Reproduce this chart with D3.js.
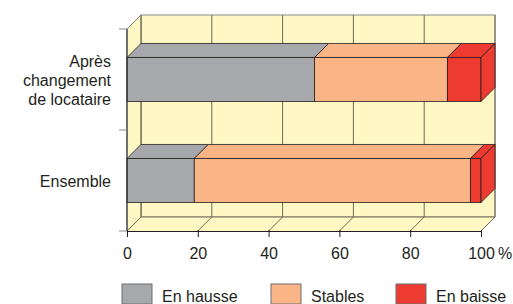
<!DOCTYPE html>
<html>
<head>
<meta charset="utf-8">
<script src="https://cdn.jsdelivr.net/npm/d3@7"></script>
<style>
  body { margin: 0; background: #fff; }
  text { font-family: "Liberation Sans", Arial, sans-serif; fill: #231f20; }
</style>
</head>
<body>
<div id="chart"></div>
<script>
var categories = ["Après changement de locataire", "Ensemble"];
var categoryLines = [["Après", "changement", "de locataire"], ["Ensemble"]];
var seriesNames = ["En hausse", "Stables", "En baisse"];
var hausse = [53, 19];
var stables = [37.5, 78];
var baisse = [9.5, 3];
var xTicks = [0, 20, 40, 60, 80, 100];
var colors = ["#a7a8ab", "#f9b586", "#ee3b31"];

var svg = d3.select("#chart").append("svg").attr("width", 513).attr("height", 304);

var depth = 14;
var x = d3.scaleLinear().domain([0, 100]).range([127, 481]);
var y = d3.scaleBand().domain(categories).range([29, 231]).paddingInner(0.564).paddingOuter(0.282);

var plotL = x(0), plotR = x(100), plotT = y.range()[0], plotB = y.range()[1];
var wall = "#fff8c4", gridCol = "#6e6a52", edge = "#231f20";

// back wall
svg.append("rect")
    .attr("x", plotL + depth).attr("y", plotT - depth)
    .attr("width", plotR - plotL).attr("height", plotB - plotT)
    .attr("fill", wall).attr("stroke", "#8a8a8a").attr("stroke-width", 1);

// side wall
svg.append("polygon")
    .attr("points", [[plotL, plotT], [plotL + depth, plotT - depth], [plotL + depth, plotB - depth], [plotL, plotB]].join(" "))
    .attr("fill", wall).attr("stroke", "#8a8a8a").attr("stroke-width", 1);

// floor
svg.append("polygon")
    .attr("points", [[plotL, plotB], [plotL + depth, plotB - depth], [plotR + depth, plotB - depth], [plotR, plotB]].join(" "))
    .attr("fill", wall).attr("stroke", "none");

// grid on back wall and floor
svg.append("g").selectAll("line").data(xTicks).join("line")
    .attr("x1", function(d) { return x(d) + depth; })
    .attr("x2", function(d) { return x(d) + depth; })
    .attr("y1", plotT - depth).attr("y2", plotB - depth)
    .attr("stroke", gridCol).attr("stroke-width", 1);

svg.append("g").selectAll("line").data(xTicks).join("line")
    .attr("x1", function(d) { return x(d); })
    .attr("x2", function(d) { return x(d) + depth; })
    .attr("y1", plotB).attr("y2", plotB - depth)
    .attr("stroke", gridCol).attr("stroke-width", 1);

svg.append("line")
    .attr("x1", plotL + depth).attr("x2", plotR + depth)
    .attr("y1", plotB - depth).attr("y2", plotB - depth)
    .attr("stroke", gridCol).attr("stroke-width", 1);

svg.append("line")
    .attr("x1", plotR).attr("x2", plotR + depth)
    .attr("y1", plotB).attr("y2", plotB - depth)
    .attr("stroke", gridCol).attr("stroke-width", 1);

// bars
var rows = categories.map(function(c, i) {
  var vals = [hausse[i], stables[i], baisse[i]];
  var acc = 0;
  return vals.map(function(v, k) {
    var s = { cat: c, k: k, x0: acc, x1: acc + v };
    acc += v;
    return s;
  });
});

rows.forEach(function(segs) {
  var g = svg.append("g");
  segs.forEach(function(s, k) {
    var y0 = y(s.cat), h = y.bandwidth();
    var a = x(s.x0), b = x(s.x1);
    g.append("polygon")
        .attr("points", [[a, y0], [a + depth, y0 - depth], [b + depth, y0 - depth], [b, y0]].join(" "))
        .attr("fill", colors[s.k]).attr("stroke", edge).attr("stroke-width", 0.8);
    g.append("rect")
        .attr("x", a).attr("y", y0).attr("width", b - a).attr("height", h)
        .attr("fill", colors[s.k]).attr("stroke", edge).attr("stroke-width", 0.8);
    if (k === segs.length - 1) {
      g.append("polygon")
          .attr("points", [[b, y0], [b + depth, y0 - depth], [b + depth, y0 + h - depth], [b, y0 + h]].join(" "))
          .attr("fill", colors[s.k]).attr("stroke", edge).attr("stroke-width", 0.8);
    }
  });
});

// y axis
var edges = [plotT].concat(categories.map(function(c) { return y(c) - y.step() * y.paddingInner() / 2 + y.step(); }));
svg.append("line")
    .attr("x1", plotL).attr("x2", plotL).attr("y1", plotT).attr("y2", plotB)
    .attr("stroke", edge).attr("stroke-width", 1);
svg.append("g").selectAll("line").data(edges).join("line")
    .attr("x1", plotL - 8).attr("x2", plotL)
    .attr("y1", function(d) { return d; }).attr("y2", function(d) { return d; })
    .attr("stroke", "#8a8a8a").attr("stroke-width", 1);

categories.forEach(function(c, i) {
  var lines = categoryLines[i];
  var cy = y(c) + y.bandwidth() / 2;
  var lh = 19;
  var t = svg.append("text")
      .attr("text-anchor", "end").attr("font-size", 16);
  lines.forEach(function(l, j) {
    t.append("tspan")
        .attr("x", 111)
        .attr("y", cy + 6 + (j - (lines.length - 1) / 2) * lh)
        .text(l);
  });
});

// x axis
var xAxis = svg.append("g")
    .attr("transform", "translate(0," + plotB + ")")
    .call(d3.axisBottom(x).tickValues(xTicks).tickSize(6).tickSizeOuter(0).tickPadding(11)
      .tickFormat(function(d) { return d === 100 ? "100\u2009%" : d; }));
xAxis.select(".domain").attr("stroke", edge);
xAxis.selectAll(".tick line").attr("stroke", edge).attr("y1", -1);
xAxis.selectAll(".tick text").attr("font-size", 16).attr("fill", "#231f20");
// keep the number centred on its tick, the unit trailing after it
var lastTick = xAxis.selectAll(".tick text").filter(function(d) { return d === 100; });
var numW = lastTick.node().getSubStringLength(0, 3);
lastTick.attr("text-anchor", "start").attr("x", -numW / 2);

// legend
var legendX = [122, 271, 396];
var lg = svg.append("g").selectAll("g").data(seriesNames).join("g")
    .attr("transform", function(d, i) { return "translate(" + legendX[i] + ",284)"; });
lg.append("rect")
    .attr("width", 30).attr("height", 20)
    .attr("fill", function(d, i) { return colors[i]; })
    .attr("stroke", "#6d6e71").attr("stroke-width", 1);
lg.append("text")
    .attr("x", 40).attr("y", 18)
    .attr("font-size", 16)
    .text(function(d) { return d; });
</script>
</body>
</html>
